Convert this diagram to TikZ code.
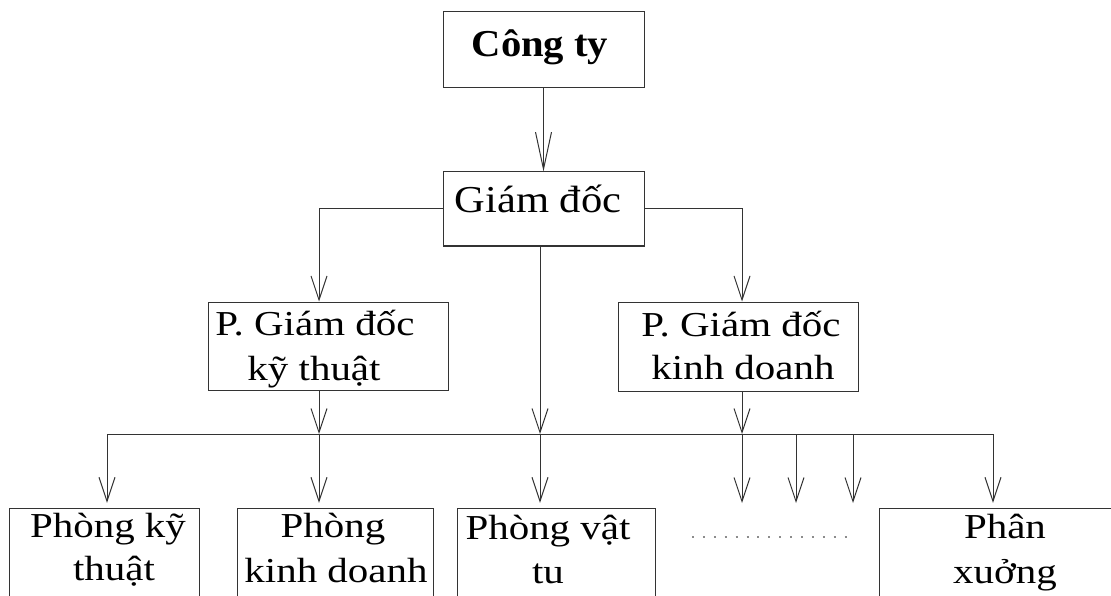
\documentclass[tikz,border=0pt]{standalone}
\usepackage{fontspec}
\setmainfont{Liberation Serif}
\newfontfamily\fA{Liberation Serif}[FakeStretch=1.17]
\newfontfamily\fB{Liberation Serif}[FakeStretch=1.12]
\newfontfamily\fC{Liberation Serif}[FakeStretch=1.07]
\usetikzlibrary{arrows.meta}
\begin{document}
\begin{tikzpicture}[x=1pt,y=-1pt,
  line/.style={draw=black!80, line width=1pt},
  arr/.style={line, -{Straight Barb[length=24pt,width=16pt]}},
  bigarr/.style={line, -{Straight Barb[length=37pt,width=16pt]}},
  box/.style={draw=black!80, line width=1pt, inner sep=0pt},
  openbox/.style={inner sep=0pt},
  lbl/.style={anchor=base, inner sep=0pt, font=\fA\fontsize{35}{40}\selectfont},
  dots/.style={draw=black!45, line width=1.5pt, dash pattern=on 2pt off 8.9pt}
]
\useasboundingbox (0,0) rectangle (1111,596);

% boxes
\node[box, minimum width=201pt, minimum height=76pt] (cty) at (543.5,50) {};
\node[box, minimum width=201pt, minimum height=74pt] (gd) at (543.5,209) {};
\node[box, minimum width=240pt, minimum height=88pt] (pkt) at (328,346) {};
\node[box, minimum width=240pt, minimum height=89pt] (pkd) at (738,346.5) {};
\node[openbox, minimum width=189pt, minimum height=111pt] (b1) at (104.5,564.5) {};
\node[openbox, minimum width=195pt, minimum height=111pt] (b2) at (335.5,564.5) {};
\node[openbox, minimum width=197pt, minimum height=111pt] (b3) at (556.5,564.5) {};
\node[openbox, minimum width=250pt, minimum height=111pt] (b5) at (1005,564.5) {};
\foreach \b in {b1,b2,b3,b5}
  \draw[line] (\b.south west) |- (\b.north east) -- (\b.south east);

% labels
\node[anchor=base, inner sep=0pt, font=\fC\bfseries\fontsize{38}{40}\selectfont] (tcty) at (540,57) {Công ty};
\node[anchor=base, inner sep=0pt, font=\fB\fontsize{38}{40}\selectfont] (tgd) at (538,213) {Giám đốc};
\node[lbl] (tpkt1) at (315,335) {P. Giám đốc};
\node[lbl] (tpkt2) at (314,380) {kỹ thuật};
\node[lbl] (tpkd1) at (741,336) {P. Giám đốc};
\node[lbl] (tpkd2) at (743,379) {kinh doanh};
\node[lbl] (tb1a) at (108,537) {Phòng kỹ};
\node[lbl] (tb1b) at (114,580) {thuật};
\node[lbl] (tb2a) at (333,537) {Phòng};
\node[lbl] (tb2b) at (336,582) {kinh doanh};
\node[lbl] (tb3a) at (548,539) {Phòng vật};
\node[lbl] (tb3b) at (548,583) {tu};
\node[lbl] (tb5a) at (1005,538) {Phân};
\node[lbl] (tb5b) at (1005,583) {xuởng};

% bus coordinates
\coordinate (c0) at (107,434);
\coordinate (c1) at (319,434);
\coordinate (c2) at (540,434);
\coordinate (c3) at (742,434);
\coordinate (c4) at (796,434);
\coordinate (c5) at (853,434);
\coordinate (c6) at (993,434);
\coordinate (e3) at (742,503);
\coordinate (e4) at (796,503);
\coordinate (e5) at (853,503);
\coordinate (d0) at (692,537);
\coordinate (d1) at (848,537);

% connectors
\draw[bigarr] (cty.south) -- (gd.north);
\draw[arr] (gd.west) -| (pkt.north -| c1);
\draw[arr] (gd.east) -| (pkd.north -| c3);
\draw[arr] (gd.south -| c2) -- (c2);
\draw[arr] (pkt.south -| c1) -- (c1);
\draw[arr] (pkd.south -| c3) -- (c3);
\draw[line] (c0) -- (c6);
\draw[arr, shorten >=6pt] (c0) -- (b1.north -| c0);
\draw[arr, shorten >=6pt] (c1) -- (b2.north -| c1);
\draw[arr, shorten >=6pt] (c2) -- (b3.north -| c2);
\draw[arr] (c3) -- (e3);
\draw[arr] (c4) -- (e4);
\draw[arr] (c5) -- (e5);
\draw[arr, shorten >=6pt] (c6) -- (b5.north -| c6);
\draw[dots] (d0) -- (d1);
\end{tikzpicture}
\end{document}
